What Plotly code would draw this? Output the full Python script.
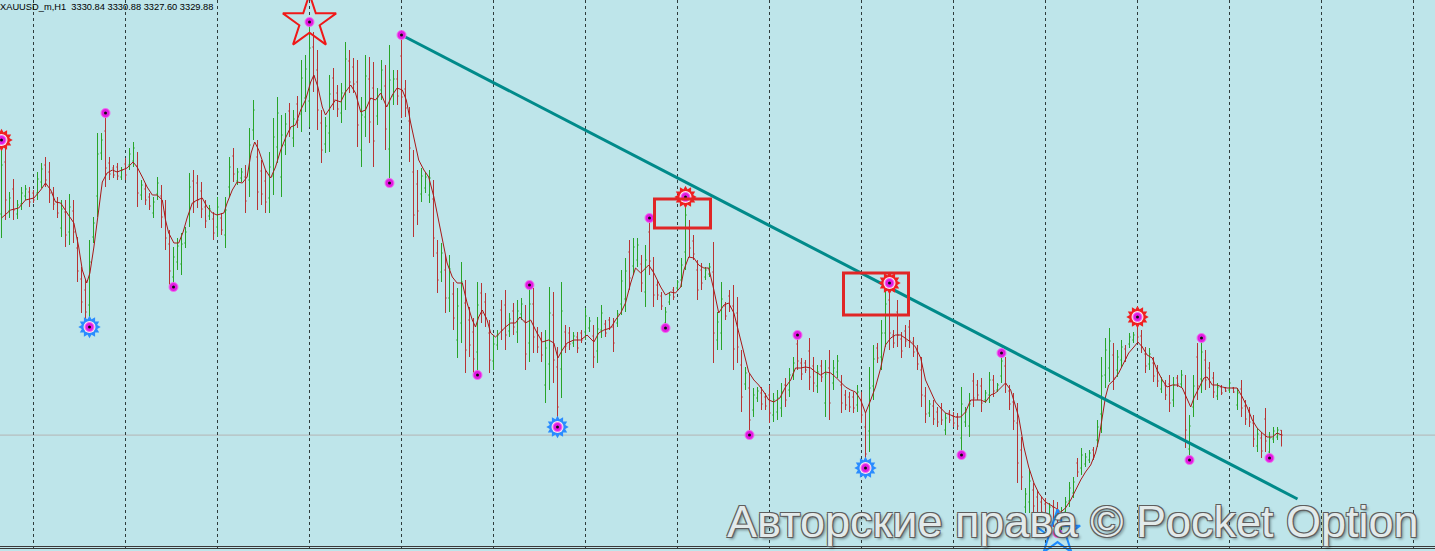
import plotly.graph_objects as go

# ---------------- data (XAUUSD_m, H1) ----------------
bar_index = list(range(321))

opens = [
3374.1,3384.5,3374.7,3379.1,3374.1,3376.1,3377.7,3378.5,3378.3,3378.3,
3380.5,3383.9,3382.5,3378.3,3376.5,3371.3,3374.5,3370.5,3374.7,3367.3,
3361.1,3358.9,3355.9,3369.5,3377.7,3386.3,3390.7,3384.3,3383.3,3383.5,
3381.5,3384.1,3383.9,3384.7,3383.7,3377.9,3379.1,3377.5,3374.3,3378.1,
3377.7,3374.5,3368.1,3361.5,3364.5,3364.1,3368.3,3374.1,3380.7,3380.3,
3378.7,3375.5,3373.7,3373.1,3371.5,3373.3,3369.9,3379.5,3385.7,3380.7,
3381.3,3381.5,3380.9,3390.9,3385.5,3382.7,3380.7,3377.3,3381.7,3387.5,
3381.5,3387.9,3394.7,3389.3,3396.1,3394.1,3397.3,3396.7,3407.5,3402.9,
3392.3,3388.1,3390.3,3401.3,3398.3,3394.3,3398.3,3404.7,3403.5,3400.5,
3386.9,3393.5,3401.1,3399.3,3393.7,3398.9,3399.7,3387.1,3397.7,3401.1,
3405.7,3399.1,3392.7,3382.5,3380.1,3378.1,3379.3,3377.9,3377.1,3366.3,
3362.5,3362.9,3357.3,3358.1,3348.9,3352.3,3356.3,3352.9,3350.5,3346.5,
3358.3,3356.5,3350.3,3344.7,3347.9,3354.9,3355.9,3350.7,3354.7,3350.5,
3354.1,3352.7,3348.3,3356.1,3350.3,3348.9,3339.9,3344.1,3353.9,3343.5,
3343.1,3350.5,3350.3,3348.3,3349.5,3350.3,3350.5,3351.3,3349.7,3346.7,
3350.9,3352.1,3352.9,3351.5,3352.3,3356.1,3357.1,3366.5,3363.7,3364.9,
3364.1,3358.5,3370.5,3362.9,3359.9,3357.7,3352.3,3356.5,3358.9,3359.3,
3360.9,3366.5,3371.1,3368.7,3362.9,3362.9,3361.5,3362.1,3362.5,3348.9,
3350.3,3355.7,3357.7,3355.7,3354.3,3343.9,3340.1,3339.3,3334.9,3337.3,
3338.3,3337.5,3337.9,3333.9,3334.5,3335.3,3339.9,3338.9,3342.1,3348.1,
3344.3,3344.3,3346.7,3343.7,3339.7,3343.7,3336.3,3343.3,3340.3,3342.5,
3339.9,3337.9,3337.5,3337.5,3335.9,3336.9,3331.5,3330.7,3339.7,3347.3,
3345.5,3350.3,3356.9,3349.9,3354.5,3349.1,3350.7,3351.5,3348.5,3346.7,
3342.9,3337.7,3334.3,3335.7,3334.5,3335.3,3330.9,3334.3,3333.7,3333.5,
3329.3,3332.5,3331.7,3340.7,3339.9,3339.7,3336.9,3337.9,3340.9,3338.9,
3341.7,3343.7,3338.7,3336.5,3332.3,3326.9,3315.5,3316.5,3318.9,3317.5,
3316.5,3316.1,3313.7,3315.5,3314.9,3312.1,3314.5,3316.7,3318.3,3324.3,
3323.3,3324.1,3324.9,3326.9,3328.9,3334.1,3341.9,3343.3,3345.9,3342.9,
3344.9,3347.1,3348.1,3348.9,3352.1,3349.7,3346.1,3344.1,3344.3,3342.7,
3339.1,3339.9,3340.1,3336.9,3341.3,3340.1,3338.3,3327.1,3335.5,3345.5,
3341.1,3344.9,3343.3,3341.3,3337.7,3339.5,3339.3,3338.9,3339.3,3335.9,
3339.1,3335.7,3334.5,3332.3,3327.7,3329.3,3333.1,3326.5,3329.1,3329.5,
3330.84]

highs = [
3388.9,3388.5,3378.5,3381.1,3376.9,3379.5,3379.9,3379.5,3378.9,3382.5,
3384.3,3385.5,3384.5,3379.5,3377.5,3376.9,3376.9,3378.1,3376.9,3369.5,
3363.5,3360.9,3368.9,3373.5,3390.3,3390.3,3394.3,3385.5,3383.9,3384.3,
3383.5,3385.3,3387.3,3388.5,3386.5,3380.9,3380.3,3378.3,3377.5,3381.5,
3379.9,3376.9,3370.9,3367.5,3369.3,3370.3,3371.5,3382.3,3382.9,3381.9,
3380.5,3376.9,3375.9,3374.5,3377.5,3374.3,3377.5,3385.5,3387.3,3383.3,
3383.3,3383.9,3391.3,3396.9,3388.9,3384.9,3382.9,3386.5,3393.3,3397.5,
3393.9,3394.3,3396.3,3394.9,3397.7,3404.9,3405.9,3412.5,3410.5,3406.9,
3394.9,3393.5,3401.9,3403.3,3399.9,3400.3,3408.5,3406.9,3405.3,3404.9,
3397.5,3405.9,3405.5,3404.5,3399.3,3404.9,3403.9,3407.9,3402.9,3402.9,
3409.9,3400.9,3395.5,3386.9,3382.9,3383.3,3382.5,3382.9,3380.9,3368.9,
3368.3,3365.9,3365.9,3360.5,3359.3,3364.5,3360.9,3355.5,3353.3,3360.5,
3360.3,3358.3,3352.9,3349.9,3350.9,3356.9,3358.9,3354.3,3356.3,3356.9,
3357.3,3355.9,3359.9,3359.3,3351.5,3350.5,3350.9,3359.5,3358.5,3347.5,
3360.5,3351.9,3351.5,3350.5,3350.5,3350.9,3355.3,3353.5,3351.9,3353.5,
3355.9,3352.9,3353.5,3353.3,3354.9,3362.9,3365.3,3368.9,3369.3,3369.3,
3365.9,3367.9,3373.3,3365.5,3360.9,3358.5,3355.5,3358.5,3359.5,3360.9,
3365.3,3377.5,3372.9,3369.9,3364.9,3364.3,3363.5,3364.3,3368.5,3354.5,
3360.5,3356.5,3358.9,3359.9,3357.5,3346.9,3343.5,3342.3,3339.3,3339.5,
3339.5,3338.3,3339.9,3338.3,3338.9,3340.3,3341.3,3343.3,3345.5,3349.9,
3345.3,3344.9,3349.3,3345.5,3343.9,3344.9,3344.9,3346.9,3344.9,3345.9,
3341.9,3338.9,3338.5,3338.5,3339.9,3338.5,3334.3,3343.5,3347.9,3348.3,
3352.9,3358.9,3360.3,3350.9,3356.9,3350.5,3351.9,3352.9,3349.5,3347.9,
3345.5,3339.5,3336.9,3336.9,3335.5,3336.3,3334.3,3334.9,3334.5,3334.3,
3339.5,3335.5,3338.3,3342.3,3340.9,3341.3,3338.9,3342.5,3341.9,3340.3,
3346.3,3345.5,3339.9,3338.3,3336.3,3329.5,3319.3,3322.9,3320.3,3318.9,
3317.5,3317.3,3316.3,3316.9,3316.5,3315.5,3317.5,3320.5,3321.5,3325.3,
3327.3,3326.3,3326.9,3327.5,3332.9,3345.5,3349.3,3351.3,3348.3,3346.9,
3348.9,3347.9,3350.3,3350.5,3353.5,3350.9,3347.5,3347.3,3345.5,3343.9,
3341.5,3340.9,3341.9,3341.5,3341.9,3342.9,3341.9,3333.9,3341.9,3348.3,
3349.3,3346.9,3344.5,3342.5,3340.3,3339.9,3339.5,3340.9,3339.5,3339.3,
3340.9,3336.9,3335.5,3333.9,3331.3,3330.5,3335.3,3330.5,3331.5,3331.5,
3330.88]

lows = [
3369.3,3372.9,3373.3,3372.9,3373.1,3374.9,3376.9,3375.5,3376.3,3376.9,
3379.3,3379.5,3376.3,3374.9,3373.3,3369.5,3367.5,3367.9,3368.3,3360.5,
3354.3,3352.5,3351.5,3368.3,3373.5,3384.9,3379.5,3380.9,3381.3,3380.9,
3380.9,3380.9,3382.9,3383.5,3375.5,3376.9,3375.9,3374.9,3373.3,3376.9,
3371.3,3366.9,3359.9,3359.5,3362.9,3361.9,3367.3,3371.5,3374.3,3375.3,
3373.3,3371.3,3372.9,3368.9,3369.5,3369.9,3367.3,3377.5,3380.5,3379.9,
3380.5,3374.3,3377.5,3388.9,3374.9,3375.9,3374.3,3374.3,3377.9,3384.3,
3377.5,3385.9,3389.5,3387.5,3391.3,3390.5,3394.5,3391.5,3398.5,3390.9,
3384.3,3386.3,3386.5,3394.9,3393.5,3392.3,3394.9,3398.3,3398.3,3387.5,
3383.5,3389.5,3388.3,3383.5,3391.9,3396.9,3386.9,3380.3,3395.9,3395.9,
3393.3,3393.5,3384.5,3369.5,3371.9,3376.5,3378.3,3376.3,3365.5,3358.3,
3360.5,3354.3,3354.5,3350.9,3345.3,3348.3,3342.3,3345.5,3342.3,3341.9,
3352.3,3351.5,3342.3,3342.9,3346.9,3348.9,3346.9,3349.5,3349.9,3348.3,
3352.9,3342.9,3344.5,3346.3,3346.3,3344.5,3336.3,3338.9,3340.3,3331.5,
3337.3,3346.3,3346.9,3347.5,3346.3,3348.3,3348.9,3350.5,3343.3,3344.3,
3349.3,3349.5,3350.9,3346.5,3351.5,3353.9,3354.5,3358.9,3361.9,3363.5,
3358.5,3355.5,3361.9,3355.5,3356.9,3354.9,3351.3,3355.9,3356.9,3358.9,
3359.5,3362.9,3365.5,3364.9,3356.9,3358.9,3360.9,3361.5,3344.3,3346.9,
3346.9,3352.9,3354.5,3342.9,3344.3,3334.5,3338.9,3329.9,3333.5,3336.5,
3334.9,3334.9,3332.3,3332.5,3332.9,3333.5,3335.5,3337.5,3340.9,3342.9,
3340.9,3342.3,3338.9,3338.5,3338.3,3340.5,3333.5,3332.9,3338.9,3341.3,
3334.3,3334.9,3334.5,3334.3,3334.5,3332.3,3323.3,3326.5,3336.9,3344.3,
3342.9,3347.5,3346.9,3347.3,3347.5,3345.3,3347.5,3347.3,3345.5,3342.9,
3335.5,3332.3,3333.5,3331.9,3331.5,3331.9,3329.9,3332.3,3331.5,3330.9,
3325.9,3331.5,3329.5,3335.5,3336.9,3334.5,3336.3,3336.3,3337.5,3338.5,
3340.3,3338.3,3334.9,3330.9,3320.3,3318.9,3314.3,3314.3,3314.3,3312.9,
3313.5,3312.3,3312.9,3311.5,3310.3,3310.9,3313.5,3315.5,3317.3,3321.5,
3321.9,3323.5,3324.3,3324.9,3327.5,3330.3,3339.3,3340.5,3338.9,3341.5,
3343.5,3344.5,3347.3,3348.3,3348.3,3346.3,3342.3,3342.9,3340.5,3339.5,
3338.3,3336.9,3334.5,3335.5,3339.5,3339.3,3327.3,3324.9,3333.5,3336.9,
3338.3,3338.9,3339.3,3337.3,3336.9,3337.9,3338.5,3338.3,3338.3,3334.9,
3333.5,3331.9,3331.5,3327.5,3326.5,3325.3,3326.5,3325.3,3328.3,3328.9,
3327.60]

closes = [
3383.9,3376.9,3377.3,3374.9,3375.9,3378.3,3379.1,3376.5,3376.9,3381.1,
3383.1,3380.9,3378.3,3376.1,3374.3,3375.1,3369.9,3375.5,3370.5,3362.7,
3356.5,3354.5,3364.5,3372.3,3386.1,3388.9,3383.3,3382.1,3381.9,3381.7,
3382.9,3381.9,3386.1,3387.3,3378.3,3379.9,3376.9,3375.7,3376.5,3380.3,
3373.5,3369.3,3362.7,3365.5,3367.7,3368.1,3370.5,3379.5,3376.5,3376.9,
3375.1,3372.7,3375.1,3370.3,3375.5,3370.9,3374.9,3383.5,3382.1,3382.5,
3382.5,3376.7,3387.9,3394.9,3378.5,3378.1,3376.5,3383.5,3389.5,3394.3,
3389.9,3392.1,3391.1,3393.1,3392.9,3401.3,3403.1,3407.3,3401.5,3394.9,
3386.9,3391.7,3398.1,3396.9,3395.1,3398.3,3405.1,3400.5,3400.1,3391.9,
3393.9,3401.7,3392.5,3388.7,3397.5,3402.9,3391.1,3400.9,3401.1,3397.7,
3397.5,3395.3,3387.3,3373.9,3374.7,3381.7,3381.5,3381.3,3369.3,3360.9,
3366.3,3357.3,3363.1,3353.3,3355.7,3360.5,3346.9,3347.9,3345.1,3355.9,
3354.3,3353.3,3344.9,3348.1,3349.9,3350.9,3349.9,3353.1,3351.5,3354.7,
3356.1,3346.1,3356.1,3349.5,3347.5,3345.9,3347.3,3354.3,3344.9,3335.5,
3354.7,3347.7,3348.1,3349.7,3347.3,3348.9,3353.7,3352.7,3345.5,3351.1,
3354.3,3350.3,3351.5,3348.3,3354.1,3360.7,3362.7,3361.3,3367.5,3367.9,
3360.3,3364.9,3364.7,3357.9,3357.9,3355.7,3354.5,3357.9,3357.5,3360.5,
3363.9,3373.9,3367.3,3366.1,3358.9,3360.3,3362.9,3363.5,3350.3,3352.5,
3357.1,3353.7,3355.5,3347.1,3347.5,3337.5,3342.3,3332.9,3337.9,3338.7,
3336.1,3335.7,3334.3,3336.9,3337.3,3338.5,3336.9,3341.9,3344.3,3344.7,
3342.1,3342.9,3341.5,3340.3,3342.5,3341.5,3342.1,3336.3,3343.3,3344.7,
3336.3,3335.9,3335.5,3335.3,3338.5,3333.9,3326.1,3339.3,3345.1,3345.3,
3350.3,3356.1,3350.3,3348.3,3349.9,3346.7,3348.7,3348.7,3346.5,3344.1,
3337.9,3334.1,3336.1,3333.1,3332.5,3332.9,3333.3,3332.9,3332.3,3331.7,
3336.1,3334.5,3336.1,3337.3,3337.9,3336.3,3338.3,3340.9,3338.7,3339.9,
3344.7,3340.1,3336.1,3332.7,3324.3,3321.5,3318.1,3320.7,3315.7,3314.3,
3314.5,3313.5,3315.5,3312.9,3311.9,3314.3,3316.5,3319.3,3320.5,3322.5,
3325.9,3325.5,3326.3,3325.5,3331.5,3341.7,3346.9,3348.7,3341.3,3345.5,
3347.5,3345.3,3349.5,3349.9,3349.5,3347.5,3343.7,3346.1,3341.7,3340.7,
3340.7,3337.9,3336.3,3339.9,3340.1,3341.9,3330.9,3331.7,3339.7,3339.7,
3346.5,3340.9,3340.5,3338.5,3339.5,3338.3,3338.7,3340.3,3338.5,3338.3,
3335.3,3333.1,3332.5,3329.1,3330.1,3326.7,3328.7,3329.3,3330.7,3330.9,
3329.88]

# moving average
ma_x = [0,2.3,4.3,6,8.1,9.8,11,12.3,13.5,14.8,16.4,18.1,19.3,20.2,21.3,22.1,23.1,24.1,25.2,26.4,
27.7,28.9,30.2,31.4,32.9,33.9,35.2,36.4,37.7,38.9,40.2,41,41.8,43.1,44.3,45.4,46.4,47.7,48.9,50.2,
51.4,52.7,53.9,55.6,56.4,57.7,58.9,60.2,61.4,62.4,63.3,64.3,66,67.3,68.5,69.8,71,72.3,73.5,74.8,
76,77.3,78.1,79.1,80.2,81,82.3,83.5,84.8,86,87.3,88.5,89.8,91,92.3,93.5,94.8,96.3,97.7,98.9,
100.2,101.2,102.3,103.3,104.3,105.6,106.8,108.1,109.3,110.4,111.4,112.7,113.9,115.2,116.4,117.7,118.5,119.3,120.2,121.4,
122.3,123.5,124.8,126,127.3,128.5,129.6,131,132.3,133.5,135.2,136.8,138.1,139.1,140.2,141.4,143.1,144.8,146.4,148.1,
149.3,150.6,152.3,153.5,154.8,156,157.3,158.5,159.8,161,161.8,163.1,164.8,166,167.3,168.5,169.8,170.6,171.8,173.1,
174.3,175.6,176.8,178.1,179.3,180.6,181.8,183.1,184.3,185.6,186.8,188.1,189.3,190.6,191.8,193.1,194.6,196,197.3,198.5,
199.8,201,202.3,203.5,204.8,206,207.3,208.5,209.8,211,212.3,213.5,214.8,216,217.3,218.5,219.8,221,222.3,223.5,
224.8,226,227.3,228.5,229.8,231,232.3,233.5,234.8,236,237.3,238.5,239.8,241,242.3,243.5,244.8,246,247.3,248.5,
249.8,251,252.3,253.1,254.3,255.6,256.8,258.1,259.3,261,262.3,263.5,264.8,266,267.3,268.5,269.8,271,272.3,273.5,
274.3,275.2,276,276.8,278.1,279.3,280.6,281.8,283.1,284.1,285.2,286.4,287.7,288.9,290.2,291.4,292.7,293.9,295.2,296.2,
297.3,298.1,299.3,300.6,301.4,302.7,303.9,305.2,306.4,307.7,308.9,310.2,311.4,312.7,313.9,315.2,316.4,317.7,318.9,320]
ma_p = [3373.3,3374.9,3375.3,3376.9,3377.3,3378.9,3380.3,3378.9,3376.5,3376.3,3374.3,3372.3,3367.5,3362.9,3360.3,3362.3,3367.5,3373.5,3380.5,3382.3,
3382.9,3382.5,3382.9,3383.3,3384.5,3383.5,3381.5,3379.5,3377.9,3377.9,3376.9,3372.9,3370.3,3368.3,3368.3,3370.5,3373.3,3376.3,3376.9,3377.3,
3375.5,3374.3,3373.9,3374.3,3376.3,3378.9,3380.5,3380.3,3381.5,3386.3,3388.5,3386.9,3382.9,3381.3,3383.5,3386.9,3389.3,3391.5,3391.9,3394.9,
3396.9,3400.5,3401.9,3399.5,3395.5,3393.9,3395.5,3396.9,3396.5,3398.5,3399.9,3398.3,3394.5,3394.9,3397.3,3396.9,3398.3,3395.5,3397.9,3399.3,
3398.9,3396.9,3392.3,3388.3,3384.9,3382.9,3381.5,3377.5,3372.3,3368.3,3364.3,3361.5,3360.3,3360.3,3356.3,3352.9,3351.5,3353.5,3354.9,3352.9,
3350.3,3349.5,3350.5,3351.5,3352.3,3352.3,3353.5,3352.3,3352.9,3350.9,3348.5,3348.9,3348.3,3345.3,3346.9,3348.3,3348.9,3348.9,3349.9,3348.5,
3350.3,3350.9,3351.3,3352.9,3354.3,3356.3,3360.3,3363.3,3362.3,3363.3,3363.9,3362.3,3359.5,3357.9,3358.5,3358.3,3359.5,3362.9,3365.5,3365.3,
3363.9,3363.3,3363.3,3358.9,3354.3,3355.9,3356.3,3354.3,3350.5,3346.3,3342.5,3340.9,3339.9,3338.5,3336.9,3336.5,3337.3,3339.5,3340.9,3343.3,
3343.3,3343.5,3343.3,3342.5,3341.9,3342.5,3342.3,3341.5,3340.5,3339.5,3338.9,3338.5,3336.9,3334.3,3336.9,3339.5,3343.3,3347.9,3349.3,3349.9,
3349.9,3349.3,3348.5,3347.5,3345.3,3340.9,3338.5,3336.5,3335.3,3334.3,3333.9,3333.5,3333.5,3334.5,3336.9,3336.9,3336.9,3336.5,3337.9,3338.3,
3339.3,3340.3,3338.9,3336.9,3333.5,3327.5,3323.5,3320.3,3318.3,3316.5,3315.9,3315.3,3314.5,3315.3,3316.9,3318.9,3320.9,3322.5,3323.9,3326.3,
3328.9,3333.5,3337.5,3339.9,3340.9,3342.3,3344.5,3346.3,3347.5,3348.5,3347.5,3345.9,3345.3,3342.9,3340.9,3339.5,3339.9,3339.9,3339.3,3337.5,
3335.5,3337.3,3339.3,3341.3,3341.5,3339.9,3339.9,3339.5,3339.3,3339.3,3339.3,3337.5,3335.5,3332.9,3331.3,3330.3,3329.5,3329.5,3330.3,3329.9]

# fractal / swing markers (bar indices)
swing_high_idx = [0, 26, 77, 100, 132, 162, 171, 199, 222, 250, 284, 300]
swing_low_idx = [22, 43, 97, 119, 139, 166, 187, 216, 240, 264, 297, 317]
red_sun_idx = [0, 171, 222, 284]
blue_sun_idx = [22, 139, 216]
red_star_idx = [77]
blue_star_idx = [264]

# trend line (bar index, price)
trend_x = [100, 324]
trend_p = [3409.9, 3317.1]

# highlighted boxes (bar index range, price range)
box_x0 = [163.25, 210.5]
box_x1 = [177.25, 226.75]
box_p0 = [3377.1, 3362.3]
box_p1 = [3371.3, 3353.9]

bid_price = 3329.88
title_text = "XAUUSD_m,H1\u00a0 3330.84 3330.88 3327.60 3329.88"
watermark = "Авторские права © Pocket Option"

for name, arr in (("opens", opens), ("highs", highs), ("lows", lows), ("closes", closes)):
    if len(arr) != len(bar_index):
        raise SystemExit(f"{name} has {len(arr)} values")
if len(ma_x) != len(ma_p):
    raise SystemExit(f"ma lengths {len(ma_x)} {len(ma_p)}")

# ---------------- styling ----------------
BG = "#BEE5EA"
UP = "#28A428"
DOWN = "#B83434"
MA_COL = "#A81818"
TEAL = "#008A8A"

fig = go.Figure()

fig.add_trace(go.Ohlc(
    x=bar_index, open=opens, high=highs, low=lows, close=closes,
    increasing=dict(line=dict(color=UP, width=1)),
    decreasing=dict(line=dict(color=DOWN, width=1)),
    tickwidth=0.3, hoverinfo="skip", showlegend=False))

fig.add_trace(go.Scatter(x=ma_x, y=ma_p, mode="lines",
                         line=dict(color=MA_COL, width=1), hoverinfo="skip", showlegend=False))

fig.add_trace(go.Scatter(x=trend_x, y=trend_p, mode="lines",
                         line=dict(color=TEAL, width=3), hoverinfo="skip", showlegend=False))

# stars
fig.add_trace(go.Scatter(x=red_star_idx, y=[highs[i] for i in red_star_idx], mode="markers",
                         marker=dict(symbol="star-open", size=40, color="#F01818", line=dict(width=2, color="#F01818")),
                         hoverinfo="skip", showlegend=False))
fig.add_trace(go.Scatter(x=blue_star_idx, y=[lows[i] for i in blue_star_idx], mode="markers",
                         marker=dict(symbol="star-open", size=34, color="#1E8CFF", line=dict(width=2, color="#1E8CFF")),
                         hoverinfo="skip", showlegend=False))

def add_sun(idx, prices, col):
    for ang in (0, 30):
        fig.add_trace(go.Scatter(x=idx, y=prices, mode="markers",
                                 marker=dict(symbol="hexagram", size=17, color=col, angle=ang,
                                             line=dict(width=0)),
                                 hoverinfo="skip", showlegend=False))
    fig.add_trace(go.Scatter(x=idx, y=prices, mode="markers",
                             marker=dict(symbol="circle", size=12, color="#FBE6EE", line=dict(width=0)),
                             hoverinfo="skip", showlegend=False))

add_sun(red_sun_idx, [highs[i] for i in red_sun_idx], "#F02020")
add_sun(blue_sun_idx, [lows[i] for i in blue_sun_idx], "#2A8CFF")

sw_x = swing_high_idx + swing_low_idx
sw_y = [highs[i] for i in swing_high_idx] + [lows[i] for i in swing_low_idx]
fig.add_trace(go.Scatter(x=sw_x, y=sw_y, mode="markers",
                         marker=dict(symbol="circle", size=9, color="#E21BE2",
                                     line=dict(width=1, color="#F070F0")),
                         hoverinfo="skip", showlegend=False))
fig.add_trace(go.Scatter(x=sw_x, y=sw_y, mode="markers",
                         marker=dict(symbol="circle", size=3, color="#101010", line=dict(width=0)),
                         hoverinfo="skip", showlegend=False))

shapes = [dict(type="line", xref="paper", x0=0, x1=1, yref="y", y0=bid_price, y1=bid_price,
               line=dict(color="#B4B4B4", width=1), layer="below")]
for x0, x1, p0, p1 in zip(box_x0, box_x1, box_p0, box_p1):
    shapes.append(dict(type="rect", xref="x", yref="y", x0=x0, x1=x1, y0=p0, y1=p1,
                       line=dict(color="#E02626", width=3), fillcolor="rgba(0,0,0,0)", layer="above"))
for py in (546.5, 548.5):
    shapes.append(dict(type="line", xref="paper", yref="paper", x0=0, x1=1,
                       y0=1 - py / 551, y1=1 - py / 551, line=dict(color="#3A3A3A", width=1)))

annotations = [
    dict(text=title_text, xref="paper", yref="paper", x=0.0, y=1.0, xanchor="left", yanchor="top",
         showarrow=False, font=dict(family="Liberation Sans, Arial, sans-serif", size=9.3, color="#000000"),
         borderpad=0, xshift=-1, yshift=-1),
    dict(text=watermark, xref="paper", yref="paper", x=1420 / 1435, y=(551 - 548) / 551,
         xanchor="right", yanchor="bottom", showarrow=False,
         font=dict(family="Liberation Sans, Arial, sans-serif", size=45, color="#E3EAEA",
                   shadow="1px 1px 0 #5E5E5E, -1px -1px 0 #5E5E5E, 1px -1px 0 #5E5E5E, -1px 1px 0 #5E5E5E, 2px 2px 3px rgba(0,0,0,0.45)"),
         borderpad=0),
]

fig.update_layout(
    width=1435, height=551, margin=dict(l=0, r=0, t=0, b=0),
    paper_bgcolor=BG, plot_bgcolor=BG, showlegend=False,
    shapes=shapes, annotations=annotations, dragmode=False,
    xaxis=dict(range=[-0.375, 358.375], showticklabels=False, zeroline=False, showline=False,
               showgrid=True, tick0=8, dtick=23, gridcolor="#2E3C3C", gridwidth=1, griddash="3px,3px",
               rangeslider=dict(visible=False), fixedrange=True),
    yaxis=dict(range=[3306.7, 3416.9], showticklabels=False, zeroline=False, showline=False,
               showgrid=False, fixedrange=True),
)

fig.write_html("out.html", config={"displayModeBar": False},
               post_script="document.body.style.margin='0';document.body.style.padding='0';"
                           "document.body.style.overflow='hidden';"
                           "document.documentElement.style.background='" + BG + "';")
